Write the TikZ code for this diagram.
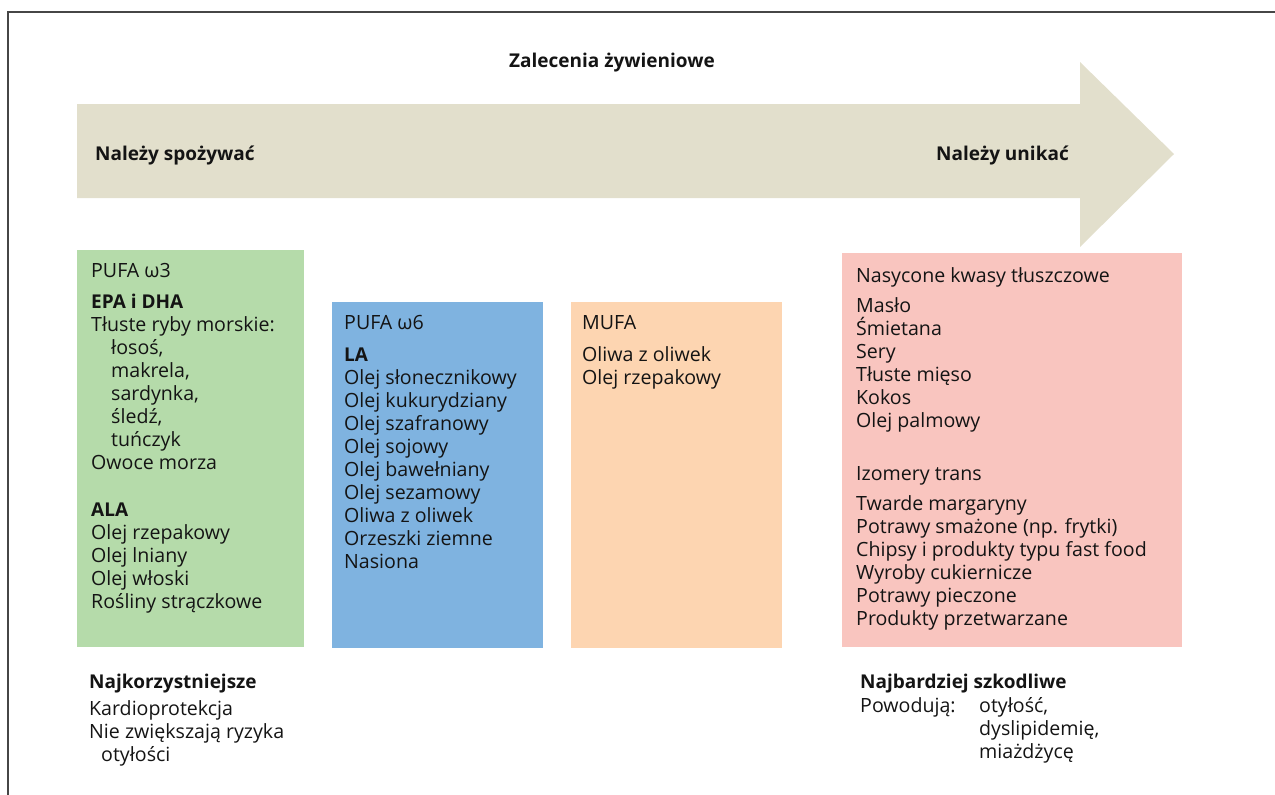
\documentclass[tikz,border=0pt]{standalone}
\usepackage{fontspec}
\setmainfont{Open Sans}
\definecolor{arrowc}{RGB}{226,223,204}
\definecolor{greenc}{RGB}{181,219,170}
\definecolor{bluec}{RGB}{127,179,224}
\definecolor{orangec}{RGB}{253,213,177}
\definecolor{pinkc}{RGB}{249,197,191}
\definecolor{txtc}{RGB}{20,20,20}
\definecolor{framec}{RGB}{70,70,70}
\tikzset{
  txt/.style={inner sep=0pt, anchor=base west, text=txtc, font=\fontsize{19.6}{22}\selectfont},
  hd/.style={txt, font=\fontsize{19}{22}\selectfont\bfseries},
}
\begin{document}
\begin{tikzpicture}[x=1pt,y=-1pt]
\useasboundingbox (0,0) rectangle (1275,795);
\draw[framec, line width=1.3pt] (8,795) -- (8,12) -- (1275,12);
% big arrow
\fill[arrowc] (77,104) -- (1080,104) -- (1080,62) -- (1174,154) -- (1080,247) -- (1080,198) -- (77,198) -- cycle;
\node[hd, anchor=base] (title) at (612,67) {Zalecenia żywieniowe};
\node[hd] (eat) at (95,160) {Należy spożywać};
\node[hd, anchor=base east] (avoid) at (1069,160) {Należy unikać};
% boxes
\fill[greenc] (77,250) rectangle (304,647);
\fill[bluec] (332,302) rectangle (543,648);
\fill[orangec] (571,302) rectangle (782,648);
\fill[pinkc] (842,253) rectangle (1182,647);
% green text
\foreach \x/\y/\t [count=\i] in {91/277/{PUFA ω3}, 91/331/{Tłuste ryby morskie:}, 111/354/{łosoś,}, 111/377/{makrela,}, 111/400/{sardynka,}, 111/423/{śledź,}, 111/446/{tuńczyk}, 91/469/{Owoce morza}, 91/539/{Olej rzepakowy}, 91/562/{Olej lniany}, 91/585/{Olej włoski}, 91/608/{Rośliny strączkowe}}
  \node[txt] (g\i) at (\x,\y) {\t};
\node[hd] (epa) at (91,308) {EPA i DHA};
\node[hd] (ala) at (91,516) {ALA};
% blue text
\node[txt] (b0) at (344,329) {PUFA ω6};
\node[hd] (la) at (344,361) {LA};
\foreach \t [count=\i] in {Olej słonecznikowy, Olej kukurydziany, Olej szafranowy, Olej sojowy, Olej bawełniany, Olej sezamowy, Oliwa z oliwek, Orzeszki ziemne, Nasiona}
  \node[txt] (b\i) at (344,384+23*\i-23) {\t};
% orange text
\node[txt] (o0) at (582,329) {MUFA};
\node[txt] (o1) at (582,361) {Oliwa z oliwek};
\node[txt] (o2) at (582,384) {Olej rzepakowy};
% pink text
\node[txt] (p0) at (856,282) {Nasycone kwasy tłuszczowe};
\foreach \t [count=\i] in {Masło, Śmietana, Sery, Tłuste mięso, Kokos, Olej palmowy}
  \node[txt] (p\i) at (856,312+23*\i-23) {\t};
\node[txt] (q0) at (856,480) {Izomery trans};
\foreach \t [count=\i] in {Twarde margaryny, Potrawy smażone (np. frytki), Chipsy i produkty typu fast food, Wyroby cukiernicze, Potrawy pieczone, Produkty przetwarzane}
  \node[txt] (q\i) at (856,510+23*\i-23) {\t};
% bottom left
\node[hd] (best) at (89,688) {Najkorzystniejsze};
\node[txt] (l1) at (89,715) {Kardioprotekcja};
\node[txt] (l2) at (89,738) {Nie zwiększają ryzyka};
\node[txt] (l3) at (101,761) {otyłości};
% bottom right
\node[hd] (worst) at (860,688) {Najbardziej szkodliwe};
\node[txt] (r0) at (860,712) {Powodują:};
\node[txt] (r1) at (979,712) {otyłość,};
\node[txt] (r2) at (979,735) {dyslipidemię,};
\node[txt] (r3) at (979,758) {miażdżycę};
\end{tikzpicture}
\end{document}
